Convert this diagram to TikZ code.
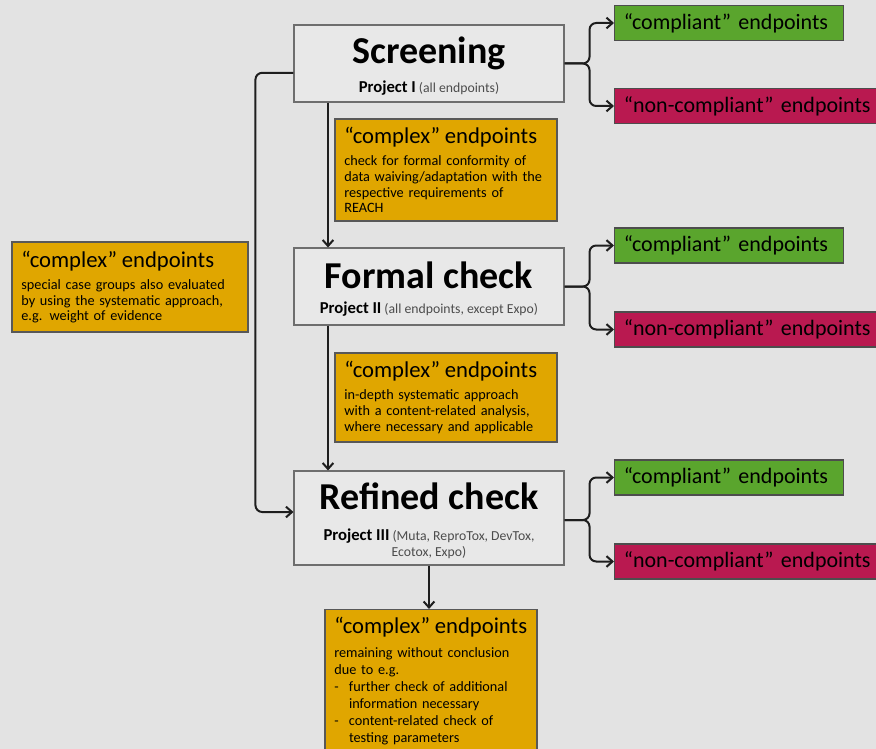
\documentclass[tikz,border=0pt]{standalone}
\usepackage{fontspec}
\setmainfont{Carlito}
\usetikzlibrary{arrows, arrows.meta, calc}

\definecolor{bggray}{HTML}{E3E3E3}
\definecolor{mainfill}{HTML}{E8E8E8}
\definecolor{boxgray}{HTML}{6E6E6E}
\definecolor{cplxorange}{HTML}{E0A600}
\definecolor{okgreen}{HTML}{5AA52D}
\definecolor{nokred}{HTML}{B91950}
\definecolor{linedark}{HTML}{1E1E1E}

\newcommand{\cplxhead}{{\fontsize{17}{20}\selectfont ``complex'' endpoints}\\[5pt]}
\newcommand{\stagetitle}[1]{{\fontsize{28.5}{32}\selectfont\bfseries\rule{0pt}{24pt}#1}}
\newcommand{\projname}[1]{{\fontsize{12.5}{14}\selectfont\bfseries #1}}
\newcommand{\projnote}[1]{{\fontsize{10.3}{12.75}\selectfont\color{black!70} #1}}

\begin{document}
\begin{tikzpicture}[x=0.75pt, y=-0.75pt,
	mainbox/.style={draw=boxgray, fill=mainfill, line width=0.8pt, minimum width=202.5pt, align=center, inner sep=2pt},
	cplx/.style={draw=boxgray!80!black, fill=cplxorange, line width=0.8pt, align=left, inner xsep=7pt, inner ysep=4pt, font=\fontsize{10.7}{11.8}\selectfont},
	okbox/.style={draw=boxgray!70!black, fill=okgreen, line width=0.8pt, anchor=west, minimum height=26.25pt, inner xsep=7pt, align=left, font=\fontsize{16.5}{20}\selectfont},
	nokbox/.style={draw=boxgray!70!black, fill=nokred, line width=0.8pt, anchor=west, minimum height=26.25pt, inner xsep=7pt, align=left, font=\fontsize{16.5}{20}\selectfont},
	conn/.style={-{Straight Barb[length=4.5pt, width=8pt]}, line width=1.5pt, draw=linedark}]

	% page and background
	\fill[bggray] (0,0) rectangle (876,749);
	\useasboundingbox (0,0) rectangle (876,749);

	% the three stages
	\node[mainbox, minimum height=57.75pt] (screen) at (429,63.5)
		{\stagetitle{Screening}\\[7pt]\projname{Project I} \projnote{(all endpoints)}};
	\node[mainbox, minimum height=57.75pt] (formal) at (429,286.5)
		{\stagetitle{Formal check}\\[7pt]\projname{Project II} \projnote{(all endpoints, except Expo)}};
	\node[mainbox, minimum height=70.5pt] (refined) at (429,518)
		{\stagetitle{Refined check}\\[11pt]\projname{Project III} \projnote{(Muta, ReproTox, DevTox,}\\\projnote{Ecotox, Expo)}};

	% complex endpoints
	\node[cplx, text width=152.5pt, minimum height=76.5pt] (cplx1) at (446,170)
		{\cplxhead check for formal conformity of\\ data waiving/adaptation with the\\ respective requirements of\\ REACH};
	\node[cplx, text width=163pt, minimum height=67.5pt] (cplx0) at (130,287)
		{\cplxhead special case groups also evaluated\\ by using the systematic approach,\\ e.g. weight of evidence};
	\node[cplx, text width=152.5pt, minimum height=66.75pt] (cplx2) at (446,397.5)
		{\cplxhead in-depth systematic approach\\ with a content-related analysis,\\ where necessary and applicable};
	\node[cplx, anchor=north, text width=145pt, inner ysep=6pt, font=\fontsize{10.7}{12.8}\selectfont] (cplx3) at (431,609)
		{\cplxhead remaining without conclusion\\ due to e.g.\\
		\makebox[11pt][l]{-}further check of additional\\ \hspace*{11pt}information necessary\\
		\makebox[11pt][l]{-}content-related check of\\ \hspace*{11pt}testing parameters};

	% outcomes
	\node[okbox, text width=157.75pt] (ok1) at (614,23) {``compliant'' endpoints};
	\node[nokbox, text width=190pt] (nok1) at (614,106) {``non-compliant'' endpoints};
	\node[okbox, text width=157.75pt] (ok2) at (614,245.5) {``compliant'' endpoints};
	\node[nokbox, text width=190pt] (nok2) at (614,329.5) {``non-compliant'' endpoints};
	\node[okbox, text width=157.75pt] (ok3) at (614,477.5) {``compliant'' endpoints};
	\node[nokbox, text width=190pt] (nok3) at (614,561.5) {``non-compliant'' endpoints};

	% forks to the outcomes
	\draw[conn, rounded corners=5pt] (screen.east) -- ++(25,0) |- (ok1.west);
	\draw[conn, rounded corners=5pt] (screen.east) -- ++(25,0) |- (nok1.west);
	\draw[conn, rounded corners=5pt] (formal.east) -- ++(25,0) |- (ok2.west);
	\draw[conn, rounded corners=5pt] (formal.east) -- ++(25,0) |- (nok2.west);
	\draw[conn, rounded corners=5pt] ([yshift=-1.5pt]refined.east) -- ++(25,0) |- (ok3.west);
	\draw[conn, rounded corners=5pt] ([yshift=-1.5pt]refined.east) -- ++(25,0) |- (nok3.west);

	% flow between the stages
	\draw[conn] ([xshift=25.9pt]screen.south west) -- ([xshift=25.9pt]formal.north west);
	\draw[conn] ([xshift=25.9pt]formal.south west) -- ([xshift=25.9pt]refined.north west);
	\draw[conn] (refined.south) -- (refined.south |- cplx3.north);
	\draw[conn, rounded corners=5pt] ([yshift=-7pt]screen.west) -- ++(-38,0) |- ([yshift=4.5pt]refined.west);
\end{tikzpicture}
\end{document}
